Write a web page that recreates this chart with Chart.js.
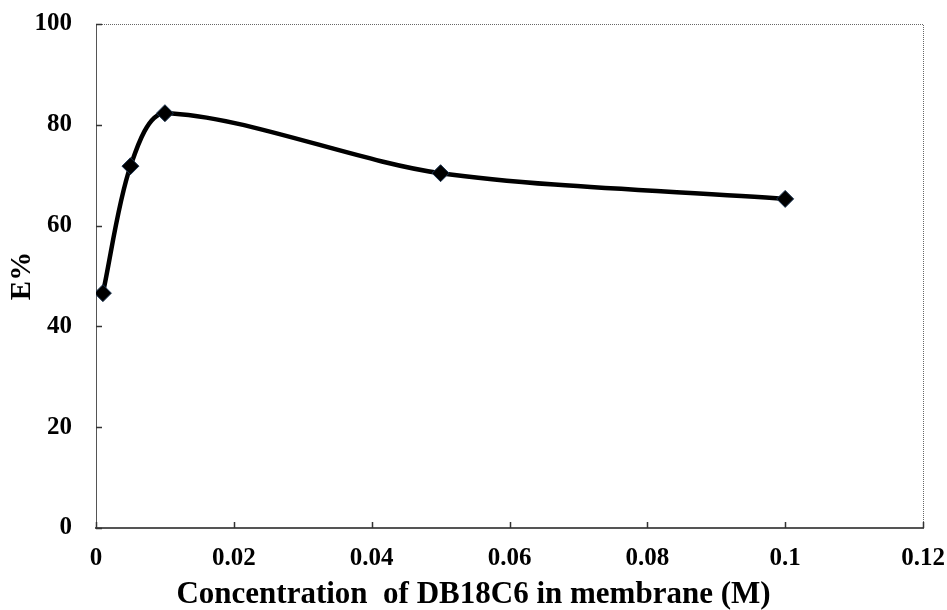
<!DOCTYPE html>
<html>
<head>
<meta charset="utf-8">
<script src="https://cdn.jsdelivr.net/npm/chart.js@4.4.1/dist/chart.umd.min.js"></script>
<style>
  html, body { margin: 0; padding: 0; background: #fff; }
  #wrap { width: 947px; height: 610px; position: relative; }
</style>
</head>
<body>
<div id="wrap"><canvas id="c" width="947" height="610"></canvas></div>
<script>
// DB18C6 concentration in the membrane (M) and extraction percentage E%
const concentration = [0.001, 0.005, 0.01, 0.05, 0.1];
const extraction = [46.6, 71.8, 82.3, 70.4, 65.3];
const xTicks = [0, 0.02, 0.04, 0.06, 0.08, 0.1, 0.12];
const yTicks = [0, 20, 40, 60, 80, 100];

const serif = "'Liberation Serif', 'DejaVu Serif', serif";

// Frame on top/right plus short inward tick marks on both axes
const frameAndTicks = {
  id: 'frameAndTicks',
  afterDraw(chart) {
    const { ctx, chartArea: a, scales: { x, y } } = chart;
    ctx.save();
    ctx.strokeStyle = '#666';
    ctx.lineWidth = 1;
    ctx.setLineDash([1, 1]);
    ctx.beginPath();
    ctx.moveTo(a.left, a.top + 0.5);
    ctx.lineTo(a.right + 0.5, a.top + 0.5);
    ctx.lineTo(a.right + 0.5, a.bottom);
    ctx.stroke();
    ctx.setLineDash([]);
    ctx.strokeStyle = '#333';
    ctx.lineWidth = 1.5;
    ctx.beginPath();
    yTicks.forEach(v => {
      const py = Math.round(y.getPixelForValue(v)) + 0.5;
      ctx.moveTo(a.left, py);
      ctx.lineTo(a.left + 6, py);
    });
    xTicks.forEach(v => {
      const px = Math.round(x.getPixelForValue(v)) + 0.5;
      ctx.moveTo(px, a.bottom);
      ctx.lineTo(px, a.bottom - 6);
    });
    ctx.stroke();
    ctx.restore();
  }
};

new Chart(document.getElementById('c'), {
  type: 'scatter',
  data: {
    datasets: [{
      data: concentration.map((c, i) => ({ x: c, y: extraction[i] })),
      showLine: true,
      tension: 0.3,
      borderColor: '#000',
      borderWidth: 4.5,
      pointStyle: 'rectRot',
      pointRadius: 8.5,
      pointBackgroundColor: '#000',
      pointBorderColor: '#1d3552',
      pointBorderWidth: 1
    }]
  },
  options: {
    responsive: false,
    animation: false,
    layout: { padding: { left: 0, right: 0, top: 24, bottom: 0 } },
    plugins: {
      legend: { display: false },
      tooltip: { enabled: false },
      // Axis caption centred across the full canvas width
      title: {
        display: true,
        position: 'bottom',
        text: 'Concentration  of DB18C6 in membrane (M)',
        color: '#000',
        font: { family: serif, size: 31, weight: 'bold', lineHeight: 1 },
        padding: { top: 0, bottom: 0 }
      }
    },
    scales: {
      x: {
        type: 'linear',
        min: 0, max: 0.12,
        afterBuildTicks: s => { s.ticks = xTicks.map(v => ({ value: v })); },
        afterFit: s => { s.height = 51; s.paddingLeft = 0; s.paddingRight = 24; },
        grid: { display: false, drawTicks: false },
        border: { color: '#555', width: 2 },
        ticks: {
          padding: 16,
          color: '#000',
          font: { family: serif, size: 25, weight: 'bold' },
          callback: v => String(v)
        }
      },
      y: {
        type: 'linear',
        min: 0, max: 100,
        afterBuildTicks: s => { s.ticks = yTicks.map(v => ({ value: v })); },
        afterFit: s => { s.width = 96; s.paddingTop = 0; s.paddingBottom = 0; },
        grid: { display: false, drawTicks: false },
        border: { color: '#555', width: 1, dash: [1, 1] },
        ticks: {
          padding: 24,
          color: '#000',
          font: { family: serif, size: 25, weight: 'bold' }
        },
        title: {
          display: true,
          text: 'E%',
          color: '#000',
          font: { family: serif, size: 29, weight: 'bold', lineHeight: 1 },
          padding: { top: 8, bottom: 0 }
        }
      }
    }
  },
  plugins: [frameAndTicks]
});
</script>
</body>
</html>
